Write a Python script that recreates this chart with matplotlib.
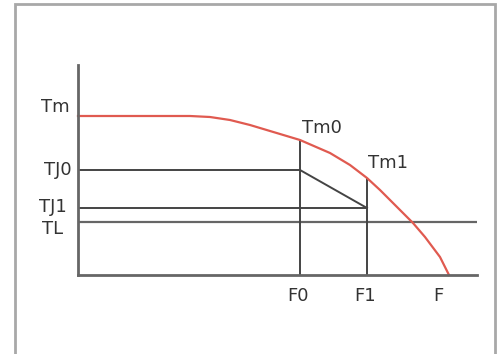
import matplotlib
matplotlib.use("Agg")
import matplotlib.pyplot as plt
from matplotlib.patches import Rectangle

# melting curve T(F) (axis units ~ pixels from origin)
curve_f = [0, 112, 132, 152, 172, 192, 212, 222, 252, 272, 289, 302, 322, 335, 347, 362, 371]
curve_t = [159, 159, 158, 155, 150, 144, 138, 135, 122, 110, 97, 85, 65, 52, 38, 18, 0]

# levels and positions
T_m = 159
T_J0 = 105
T_J1 = 67
T_L = 53
F_0 = 222
F_1 = 289
F_top0 = 134   # curve height at F0
F_top1 = 96    # curve height at F1

y_labels = ["Tm", "TJ0", "TJ1", "TL"]
x_labels = ["F0", "F1", "F"]

W, H = 499, 354
fig = plt.figure(figsize=(W / 100, H / 100), dpi=100)
fig.patch.set_facecolor("white")

# outer frame
fig.patches.append(Rectangle((15 / W, -0.05), 480 / W, 1.05 - 4 / H,
                             transform=fig.transFigure, fill=False,
                             edgecolor="#a8a8a8", linewidth=2))

ax = fig.add_axes([78 / W, (H - 275) / H, 399 / W, 210 / H])
ax.set_xlim(0, 399)
ax.set_ylim(0, 210)
ax.patch.set_alpha(0)
for s in ["top", "right"]:
    ax.spines[s].set_visible(False)
for s in ["left", "bottom"]:
    ax.spines[s].set_color("#666666")
    ax.spines[s].set_linewidth(2)
ax.set_xticks([])
ax.set_yticks([])

dark = "#444444"
ax.plot([0, F_0], [T_J0, T_J0], color=dark, lw=1.4)
ax.plot([0, F_1], [T_J1, T_J1], color=dark, lw=1.4)
ax.plot([0, 398], [T_L, T_L], color="#666666", lw=1.6)
ax.plot([F_0, F_1], [T_J0, T_J1], color=dark, lw=1.4)
ax.plot([F_0, F_0], [0, F_top0], color=dark, lw=1.4)
ax.plot([F_1, F_1], [0, F_top1], color=dark, lw=1.4)
ax.plot(curve_f, curve_t, color="#e05a50", lw=1.6, clip_on=False)

fs = 13
tc = "#333333"
ax.text(-8, 168, y_labels[0], ha="right", va="center", fontsize=fs, color=tc, clip_on=False)
ax.text(-6, T_J0, y_labels[1], ha="right", va="center", fontsize=fs, color=tc, clip_on=False)
ax.text(-11, T_J1 + 1, y_labels[2], ha="right", va="center", fontsize=fs, color=tc, clip_on=False)
ax.text(-25, 46, y_labels[3], ha="center", va="center", fontsize=fs, color=tc, clip_on=False)

ax.text(F_0 - 2, -21, x_labels[0], ha="center", va="center", fontsize=fs, color=tc, clip_on=False)
ax.text(F_1 - 2, -21, x_labels[1], ha="center", va="center", fontsize=fs, color=tc, clip_on=False)
ax.text(360, -21, x_labels[2], ha="center", va="center", fontsize=fs, color=tc, clip_on=False)

ax.text(F_0 + 2, 147, "Tm0", ha="left", va="center", fontsize=fs, color=tc)
ax.text(F_1 + 1, 112, "Tm1", ha="left", va="center", fontsize=fs, color=tc)

fig.savefig("out.png", dpi=100)
